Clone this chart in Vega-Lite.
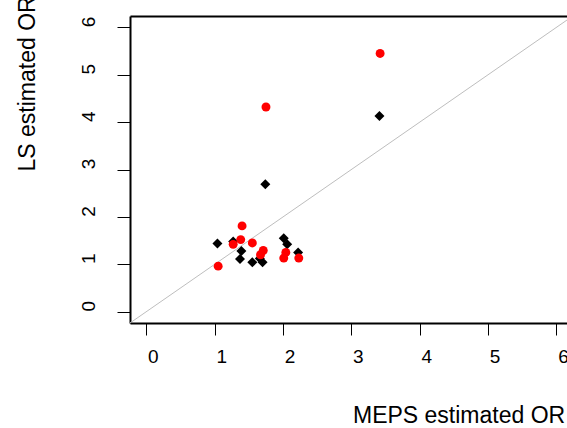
{
  "$schema": "https://vega.github.io/schema/vega-lite/v6.json",
  "width": 437,
  "height": 307,
  "autosize": {"type": "none"},
  "padding": {"left": 130, "top": 16, "right": 0, "bottom": 105},
  "background": "white",
  "config": {
    "view": {"stroke": null},
    "axis": {
      "labelFont": "Liberation Sans",
      "titleFont": "Liberation Sans",
      "grid": false,
      "domainColor": "black",
      "tickColor": "black",
      "labelColor": "black",
      "titleColor": "black",
      "titleFontWeight": "normal"
    }
  },
  "datasets": {
    "pts": [
      {"x": 3.41, "y": 4.13, "g": "black"},
      {"x": 1.74, "y": 2.69, "g": "black"},
      {"x": 1.04, "y": 1.44, "g": "black"},
      {"x": 1.27, "y": 1.48, "g": "black"},
      {"x": 1.39, "y": 1.28, "g": "black"},
      {"x": 1.37, "y": 1.11, "g": "black"},
      {"x": 1.55, "y": 1.04, "g": "black"},
      {"x": 1.70, "y": 1.04, "g": "black"},
      {"x": 1.66, "y": 1.12, "g": "black"},
      {"x": 2.01, "y": 1.55, "g": "black"},
      {"x": 2.06, "y": 1.42, "g": "black"},
      {"x": 2.22, "y": 1.25, "g": "black"},
      {"x": 3.42, "y": 5.45, "g": "red"},
      {"x": 1.75, "y": 4.32, "g": "red"},
      {"x": 1.40, "y": 1.81, "g": "red"},
      {"x": 1.38, "y": 1.52, "g": "red"},
      {"x": 1.27, "y": 1.42, "g": "red"},
      {"x": 1.55, "y": 1.45, "g": "red"},
      {"x": 1.71, "y": 1.29, "g": "red"},
      {"x": 1.67, "y": 1.20, "g": "red"},
      {"x": 1.05, "y": 0.96, "g": "red"},
      {"x": 2.04, "y": 1.25, "g": "red"},
      {"x": 2.01, "y": 1.13, "g": "red"},
      {"x": 2.23, "y": 1.13, "g": "red"}
    ],
    "diag": [{"x": -1, "y": -1}, {"x": 7, "y": 7}]
  },
  "resolve": {"axis": {"x": "independent"}},
  "layer": [
    {
      "data": {"name": "diag"},
      "mark": {"type": "line", "color": "#BEBEBE", "strokeWidth": 1, "clip": true},
      "encoding": {
        "x": {
          "field": "x", "type": "quantitative",
          "scale": {"domain": [-0.24, 6.155], "nice": false, "zero": false},
          "axis": {
            "orient": "bottom",
            "values": [0, 1, 2, 3, 4, 5, 6],
            "tickSize": 12,
            "tickWidth": 1,
            "domainWidth": 2,
            "labelFontSize": 19,
            "labelBaseline": "alphabetic",
            "labelPadding": 27,
            "labelOffset": 6.5,
            "labelFlush": false,
            "labelOverlap": false,
            "title": "MEPS estimated OR",
            "titleFontSize": 23,
            "titleAlign": "left",
            "titleBaseline": "alphabetic",
            "titleX": 222.5,
            "titleY": 99
          }
        },
        "y": {
          "field": "y", "type": "quantitative",
          "scale": {"domain": [-0.24, 6.24], "nice": false, "zero": false},
          "axis": {
            "orient": "left",
            "values": [0, 1, 2, 3, 4, 5, 6],
            "tickSize": 13,
            "tickWidth": 1,
            "domainWidth": 2,
            "labelFontSize": 19,
            "labelAngle": -90,
            "labelAlign": "center",
            "labelBaseline": "alphabetic",
            "labelPadding": 23,
            "labelOffset": -6,
            "labelFlush": false,
            "labelOverlap": false,
            "title": "LS estimated OR",
            "titleFontSize": 23,
            "titleAngle": -90,
            "titleAlign": "left",
            "titleBaseline": "alphabetic",
            "titleX": -96,
            "titleY": 155
          }
        }
      }
    },
    {
      "data": {"name": "pts"},
      "transform": [{"filter": "datum.g == 'black'"}],
      "mark": {"type": "point", "shape": "diamond", "filled": true, "color": "black", "size": 100, "opacity": 1},
      "encoding": {
        "x": {
          "field": "x", "type": "quantitative",
          "axis": {"orient": "top", "ticks": false, "labels": false, "title": null, "domainWidth": 2, "domainColor": "black"}
        },
        "y": {"field": "y", "type": "quantitative"}
      }
    },
    {
      "data": {"name": "pts"},
      "transform": [{"filter": "datum.g == 'red'"}],
      "mark": {"type": "point", "shape": "circle", "filled": true, "color": "#FF0000", "size": 80, "opacity": 1},
      "encoding": {
        "x": {"field": "x", "type": "quantitative", "axis": null},
        "y": {"field": "y", "type": "quantitative"}
      }
    }
  ]
}
